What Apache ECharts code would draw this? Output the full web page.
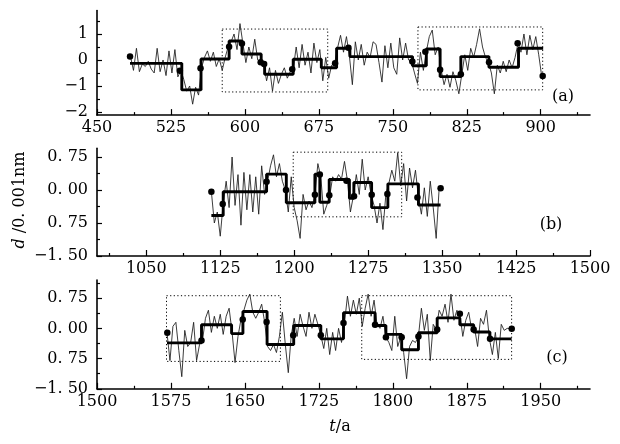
<!DOCTYPE html>
<html><head><meta charset="utf-8">
<script src="https://cdn.jsdelivr.net/npm/echarts@6/dist/echarts.min.js"></script>
<style>html,body{margin:0;padding:0;background:#fff}#c{width:620px;height:444px}</style>
</head><body><div id="c"></div>
<script>
// ---------- data ----------
const yearStep = 3;
const startA = 484, startB = 1116, startC = 1571;
const valuesA = [
 0.13,-0.4,0.45,-0.45,-0.15,-0.25,-0.05,-0.35,-0.5,0.45,-0.45,0.0,-0.6,0.35,-0.5,0.4,-0.65,-0.4,
 -0.75,-1.2,-1.0,-1.7,-1.05,-1.35,
 -0.3,0.1,0.35,-0.05,0.3,-0.25,0.05,-0.4,0.1,0.5,
 0.7,1.0,0.4,1.4,
 0.63,-0.1,0.5,0.05,0.8,0.0,-0.09,
 -0.15,-0.8,-0.3,-1.2,-0.4,-0.9,-0.55,-0.3,-0.7,-0.45,
 -0.36,0.5,-0.3,0.6,-0.2,0.3,-0.5,0.65,-0.1,0.4,
 -0.8,0.1,-0.7,-0.2,-0.13,
 0.47,0.95,0.3,0.9,0.15,
 -0.95,0.7,0.0,0.6,-0.2,0.3,0.1,0.7,0.6,-0.1,-0.85,0.55,-0.3,0.65,-0.3,-0.55,0.85,0.0,0.65,0.0,-0.06,
 -0.5,-0.9,0.3,-0.4,0.32,
 0.9,1.15,0.2,0.5,
 -0.38,-0.95,-0.55,-1.05,-0.45,-0.8,-1.3,
 -0.55,0.2,-0.4,0.45,0.1,0.6,1.2,0.5,0.1,-0.09,
 -0.5,-1.3,-0.2,-0.5,-0.05,-0.45,0.0,-0.3,0.1,0.64,
 0.3,1.0,0.2,0.95,0.4,0.9,0.2,-0.62
];
const valuesB = [
 -0.04,-0.75,-0.5,-1.05,-0.3,
 0.2,-0.4,0.75,-0.35,0.35,-0.8,0.4,-0.45,0.35,-0.5,0.3,-0.55,0.55,-0.1,
 0.19,0.55,0.8,0.3,0.6,0.2,0.0,
 -0.5,0.3,-0.4,-0.7,-1.1,-0.1,-0.45,-0.25,-0.4,-0.11,
 0.6,
 0.3,-0.55,-0.35,-0.14,
 0.3,0.2,0.35,0.25,0.65,0.21,
 -0.5,-0.14,
 0.35,-0.1,0.7,0.0,0.3,-0.11,
 -0.35,-0.75,-0.3,-0.9,-0.09,
 0.15,0.45,0.2,0.85,0.1,0.6,-0.25,0.5,0.05,0.45,-0.17,
 -0.55,0.05,-0.6,0.2,-0.4,-1.1,0.04
];
const valuesC = [
 -0.11,-0.8,0.05,0.15,-0.55,-1.2,-0.05,-0.45,-0.35,0.15,-0.8,-0.4,
 -0.3,0.25,0.45,-0.1,0.3,0.0,0.35,-0.15,0.3,0.5,
 -0.1,-0.85,-0.2,0.22,
 0.45,0.7,0.85,0.4,0.25,0.4,0.6,0.16,
 -0.45,-0.55,-0.4,-0.6,-0.2,0.4,-0.4,-1.1,-0.17,
 0.25,-0.2,0.35,0.05,-0.2,0.4,0.0,0.35,0.1,-0.17,
 -0.5,0.0,-0.65,-0.1,-0.55,0.0,-0.35,
 0.13,0.8,0.3,0.7,0.35,0.75,0.05,0.5,0.85,0.3,0.7,
 0.09,0.0,0.3,-0.22,
 -0.35,-0.55,0.3,-0.45,-0.22,
 -0.6,-1.25,-0.45,-0.3,-0.35,-0.2,
 0.5,-0.05,0.35,-0.8,0.1,-0.03,
 0.45,0.3,0.6,0.15,0.85,0.2,0.45,0.36,
 -0.2,0.2,0.4,-0.03,
 0.0,-0.45,0.25,0.1,0.45,-0.26,
 -0.65,-0.1,-0.75,0.1,-0.05,0.0,-0.01
];
// step (mean) segments: edges and levels
const stepEdgesA = [483.5,536,555.5,584,597,616.5,620,649,677.5,693,706.5,770,784,798,819,847.5,877.5,902.5];
const stepLevelsA = [-0.13,-1.15,0.04,0.73,0.23,-0.13,-0.55,0.03,-0.3,0.45,0.13,-0.22,0.42,-0.64,0.13,-0.28,0.45];
const stepEdgesB = [1116,1128,1172,1192,1221,1226,1235.5,1256,1260.5,1278.5,1295,1326,1348.5];
const stepLevelsB = [-0.58,-0.04,0.36,-0.29,0.36,-0.28,0.24,-0.19,0.17,-0.4,0.14,-0.34];
const stepEdgesC = [1571,1606,1636.5,1648,1672.5,1699.5,1727,1750,1782,1793,1809,1826,1845,1868,1882,1898.5,1920.5];
const stepLevelsC = [-0.36,0.09,-0.13,0.42,-0.4,0.07,-0.26,0.39,0.07,-0.15,-0.53,-0.11,0.26,0.09,-0.09,-0.26];
// change points (dots)
const dotsA = [[483.5,0.13],[534,-0.41],[555,-0.32],[584,0.51],[597,0.63],[616,-0.09],[619.5,-0.15],[648,-0.36],[691.5,-0.13],[705,0.47],[769.8,-0.06],[783,0.32],[798,-0.38],[819,-0.55],[847.6,-0.09],[876.6,0.64],[902,-0.62]];
const dotsB = [[1116,-0.04],[1127.5,-0.32],[1172,0.19],[1191.7,0.0],[1221,-0.11],[1226,0.35],[1235.6,-0.12],[1253,0.21],[1260.7,-0.14],[1278.6,-0.11],[1294.5,-0.09],[1325,-0.17],[1348.5,0.04]];
const dotsC = [[1571.3,-0.11],[1606,-0.3],[1647.8,0.22],[1672,0.16],[1699,-0.17],[1727,-0.17],[1750,0.13],[1782,0.09],[1793,-0.22],[1809,-0.22],[1826,-0.2],[1845,-0.03],[1868,0.36],[1882,-0.03],[1898.6,-0.26],[1920.6,-0.01]];
// dotted boxes [x1, x2, y1, y2]
const boxesA = [[577,684,-1.23,1.19],[775.5,902,-1.15,1.27]];
const boxesB = [[1199,1309,-0.61,0.86]];
const boxesC = [[1570.5,1686,-0.82,0.81],[1768.5,1920.5,-0.77,0.81]];
// axes
const xRangeA = [450,950], xRangeB = [1000,1500], xRangeC = [1500,2000];
const xLabelsA = [450,525,600,675,750,825,900];
const xLabelsB = [1050,1125,1200,1275,1350,1425,1500];
const xLabelsC = [1500,1575,1650,1725,1800,1875,1950];
const yRangeA = [-2.12,1.9], yRangeB = [-1.5,0.95], yRangeC = [-1.5,1.2];
const yTickValuesA = [-2,-1,0,1];
const yTickLabelsA = ['\u22122','\u22121','0','1'];
const yTickValuesBC = [-1.5,-0.75,0,0.75];
const yTickLabelsBC = ['\u22121. 50','0. 75','0. 00','0. 75'];
const panelNames = ['(a)','(b)','(c)'];

// ---------- build ----------
const FONT = 'DejaVu Serif';
const chart = echarts.init(document.getElementById('c'), null, {renderer:'canvas'});
const grids = [
  {left:97, right:30, top:10.6, height:104.5},
  {left:97, right:30, top:148.2, height:107.8},
  {left:97, right:30, top:280, height:108.8}
];
const panels = [
  {start:startA, vals:valuesA, edges:stepEdgesA, levels:stepLevelsA, dots:dotsA, boxes:boxesA, xr:xRangeA, xl:xLabelsA, yr:yRangeA, yv:yTickValuesA, yl:yTickLabelsA},
  {start:startB, vals:valuesB, edges:stepEdgesB, levels:stepLevelsB, dots:dotsB, boxes:boxesB, xr:xRangeB, xl:xLabelsB, yr:yRangeB, yv:yTickValuesBC, yl:yTickLabelsBC},
  {start:startC, vals:valuesC, edges:stepEdgesC, levels:stepLevelsC, dots:dotsC, boxes:boxesC, xr:xRangeC, xl:xLabelsC, yr:yRangeC, yv:yTickValuesBC, yl:yTickLabelsBC}
];
const tickStyle = {color:'#000', width:1.2};
const xAxis = [], yAxis = [], series = [];
panels.forEach((p, i) => {
  const majors = [], minors = [];
  const first = p.xl[0];
  for (let v = first; v <= p.xr[1] + 1e-6; v += 75) majors.push(v);
  for (let v = first - 37.5; v <= p.xr[1]; v += 75) if (v > p.xr[0]) minors.push(v);
  xAxis.push({type:'value', gridIndex:i, min:p.xr[0], max:p.xr[1], position:'bottom',
    axisLine:{show:true, onZero:false, lineStyle:{color:'#000', width:1.6}},
    axisTick:{show:true, inside:true, length:6, customValues:majors, lineStyle:tickStyle},
    axisLabel:{show:true, customValues:p.xl, color:'#000', fontFamily:FONT, fontSize:16, margin:5,
      formatter:(v) => String(Math.round(v))},
    splitLine:{show:false}});
  const ySpacing = p.yv[1] - p.yv[0];
  const yMinors = [];
  for (let v = p.yv[0] - ySpacing/2; v <= p.yr[1]; v += ySpacing) if (v > p.yr[0]) yMinors.push(v);
  yAxis.push({type:'value', gridIndex:i, min:p.yr[0], max:p.yr[1], position:'left',
    axisLine:{show:true, onZero:false, lineStyle:{color:'#000', width:1.6}},
    axisTick:{show:true, inside:true, length:5, customValues:p.yv, lineStyle:tickStyle},
    axisLabel:{show:true, customValues:p.yv, color:'#000', fontFamily:FONT, fontSize:16, margin:9,
      formatter:(v) => { const k = p.yv.findIndex(t => Math.abs(t - v) < 1e-6); return k >= 0 ? p.yl[k] : ''; }},
    splitLine:{show:false}});
  p.minX = minors; p.minY = yMinors;
});
panels.forEach((p, i) => {
  xAxis.push({type:'value', gridIndex:i, min:p.xr[0], max:p.xr[1], position:'bottom',
    axisLine:{show:false, onZero:false}, axisTick:{show:true, inside:true, length:3, customValues:p.minX, lineStyle:tickStyle},
    axisLabel:{show:false}, splitLine:{show:false}});
  yAxis.push({type:'value', gridIndex:i, min:p.yr[0], max:p.yr[1], position:'left',
    axisLine:{show:false, onZero:false}, axisTick:{show:true, inside:true, length:3, customValues:p.minY, lineStyle:tickStyle},
    axisLabel:{show:false}, splitLine:{show:false}});
});
panels.forEach((p, i) => {
  const noisy = p.vals.map((v, k) => [p.start + k * yearStep, v]);
  const steps = [];
  p.levels.forEach((lv, k) => { steps.push([p.edges[k], lv]); steps.push([p.edges[k+1], lv]); });
  series.push({type:'line', xAxisIndex:i, yAxisIndex:i, data:noisy, symbol:'none', silent:true,
    lineStyle:{color:'#1a1a1a', width:0.85}, z:2});
  series.push({type:'line', xAxisIndex:i, yAxisIndex:i, data:steps, symbol:'none', silent:true,
    lineStyle:{color:'#000', width:2.9}, z:3,
    markArea:{silent:true, itemStyle:{color:'rgba(0,0,0,0)', borderColor:'#000', borderWidth:1, borderType:[1.2,2.4]},
      data:p.boxes.map(b => [{coord:[b[0], b[3]]}, {coord:[b[1], b[2]]}])}});
  series.push({type:'scatter', xAxisIndex:i, yAxisIndex:i, data:p.dots, symbol:'circle', symbolSize:6.5, silent:true,
    itemStyle:{color:'#000', opacity:1}, z:4});
});
const graphic = [
  {type:'text', x:563, y:97, style:{text:panelNames[0], font:'16px "DejaVu Serif"', fill:'#000', textAlign:'center', textVerticalAlign:'middle'}},
  {type:'text', x:551, y:225, style:{text:panelNames[1], font:'16px "DejaVu Serif"', fill:'#000', textAlign:'center', textVerticalAlign:'middle'}},
  {type:'text', x:557, y:358, style:{text:panelNames[2], font:'16px "DejaVu Serif"', fill:'#000', textAlign:'center', textVerticalAlign:'middle'}},
  {type:'text', x:340, y:427, style:{text:'{i|t}/a', rich:{i:{fontStyle:'italic', fontFamily:FONT, fontSize:16}}, font:'16px "DejaVu Serif"', fill:'#000', textAlign:'center', textVerticalAlign:'middle'}},
  {type:'text', x:20, y:200, rotation:Math.PI/2, style:{text:'{i|d} /0. 001nm', rich:{i:{fontStyle:'italic', fontFamily:FONT, fontSize:16}}, font:'16px "DejaVu Serif"', fill:'#000', textAlign:'center', textVerticalAlign:'middle'}}
];
chart.setOption({animation:false, backgroundColor:'#fff', grid:grids, xAxis, yAxis, series, graphic});
</script></body></html>
